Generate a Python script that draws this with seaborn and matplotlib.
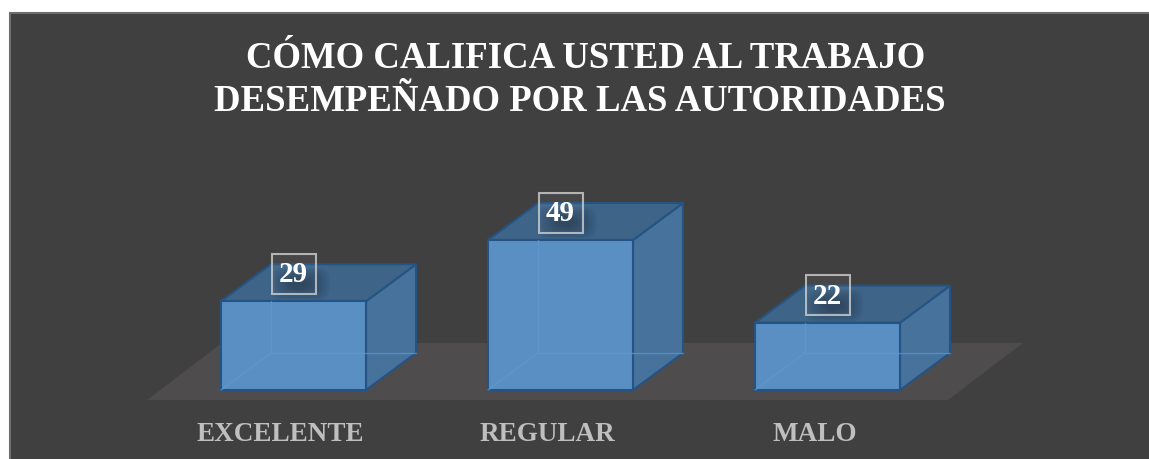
import matplotlib
matplotlib.use("Agg")
import matplotlib.pyplot as plt
import seaborn as sns
import pandas as pd
from matplotlib.patches import Polygon, Rectangle, FancyBboxPatch

# ---- data ----
categories = ["EXCELENTE", "REGULAR", "MALO"]
values = [29, 49, 22]
title_lines = ["CÓMO CALIFICA USTED AL TRABAJO", "DESEMPEÑADO POR LAS AUTORIDADES"]

# ---- style ----
W, H, DPI = 1149, 459, 100
BG = "#404040"
FLOOR = "#4e4c4d"
FRONT = "#5a8fc3"
SIDE = "#46729c"
TOP = "#3e6488"
EDGE = "#255484"
HIDDEN = "#5f99d0"
SERIF = ["Liberation Serif", "DejaVu Serif"]

sns.set_theme(style="white")
plt.rcParams["font.family"] = SERIF

fig = plt.figure(figsize=(W / DPI, H / DPI), dpi=DPI, facecolor="white")
# dark panel
fig.patches.append(Rectangle((10 / W, -0.05), (W - 10) / W + 0.05, (H - 13) / H + 0.05,
                             transform=fig.transFigure, facecolor=BG,
                             edgecolor="#6e6e6e", linewidth=1.5, zorder=-5))

ax = fig.add_axes([0, 0, 1, 1])
ax.set_facecolor("none")

PXX = 267.0   # px per category unit
PXY = 3.06    # px per value unit
X0 = 293.5    # pixel of first category
Y0 = 390.0    # pixel (from top) of value 0

df = pd.DataFrame({"cat": categories, "val": values})
bw = 145 / PXX
sns.barplot(data=df, x="cat", y="val", ax=ax, width=bw, color=FRONT,
            saturation=1, edgecolor=EDGE, linewidth=1.5, errorbar=None, zorder=3)

ax.set_xlim(-X0 / PXX, (W - X0) / PXX)
ax.set_ylim(-(H - Y0) / PXY, Y0 / PXY)
ax.axis("off")

ddx = 50 / PXX
ddy = 37 / PXY

# floor
fy0 = -10 / PXY
fy1 = 47 / PXY
fxl = (147 - X0) / PXX
fxr = (948 - X0) / PXX
fsh = 75 / PXX
ax.add_patch(Polygon([(fxl, fy0), (fxr, fy0), (fxr + fsh, fy1), (fxl + fsh, fy1)],
                     closed=True, facecolor=FLOOR, edgecolor="none", zorder=1))

for i, (cat, v) in enumerate(zip(categories, values)):
    xl, xr = i - bw / 2, i + bw / 2
    # side face
    ax.add_patch(Polygon([(xr, 0), (xr + ddx, ddy), (xr + ddx, v + ddy), (xr, v)],
                         closed=True, facecolor=SIDE, edgecolor=EDGE, lw=1.5, zorder=2))
    # top face
    ax.add_patch(Polygon([(xl, v), (xr, v), (xr + ddx, v + ddy), (xl + ddx, v + ddy)],
                         closed=True, facecolor=TOP, edgecolor=EDGE, lw=1.5, zorder=2))
    # hidden edges seen through front
    ax.plot([xl, xl + ddx], [0, ddy], color=HIDDEN, lw=1, alpha=0.7, zorder=4)
    ax.plot([xl + ddx, xr + ddx], [ddy, ddy], color=HIDDEN, lw=1, alpha=0.7, zorder=4)
    ax.plot([xl + ddx, xl + ddx], [ddy, v], color=HIDDEN, lw=1, alpha=0.7, zorder=4)

    # soft label shadow
    cy = v + 27.5 / PXY
    bwx, bhy = 44 / PXX, 40 / PXY
    for k in range(10):
        hw = (30 - k * 2.2) / PXX
        hh = (16 - k * 1.2) / PXY
        pad = 6 / PXX
        ax.add_patch(FancyBboxPatch((i + 6 / PXX - hw, cy - 10 / PXY - hh), 2 * hw, 2 * hh,
                                    boxstyle="round,pad=0,rounding_size=0.04",
                                    mutation_aspect=PXX / PXY,
                                    facecolor="black", edgecolor="none", alpha=0.035, zorder=5))
    # label box
    ax.add_patch(Rectangle((i - bwx / 2, cy - bhy / 2), bwx, bhy,
                           facecolor=(1, 1, 1, 0.04), edgecolor=(0.85, 0.85, 0.85, 0.75),
                           lw=1.5, zorder=6))
    ax.text(i, cy - 0.3, f"{v}", ha="center", va="center", color="white",
            fontsize=21, fontweight="bold", family=SERIF, zorder=7)

    # category label
    ax.text(i - 13 / PXX, (Y0 - 441) / PXY, cat, ha="center", va="baseline",
            color="#bfbfbf", fontsize=19.5, fontweight="bold", family=SERIF, zorder=7)

# title
fig.text(586 / W, 1 - 68 / H, title_lines[0], ha="center", va="baseline",
         color="white", fontsize=26.5, fontweight="bold", family=SERIF)
fig.text(580 / W, 1 - 111 / H, title_lines[1], ha="center", va="baseline",
         color="white", fontsize=26.5, fontweight="bold", family=SERIF)

fig.savefig("out.png", dpi=DPI, facecolor="white")
